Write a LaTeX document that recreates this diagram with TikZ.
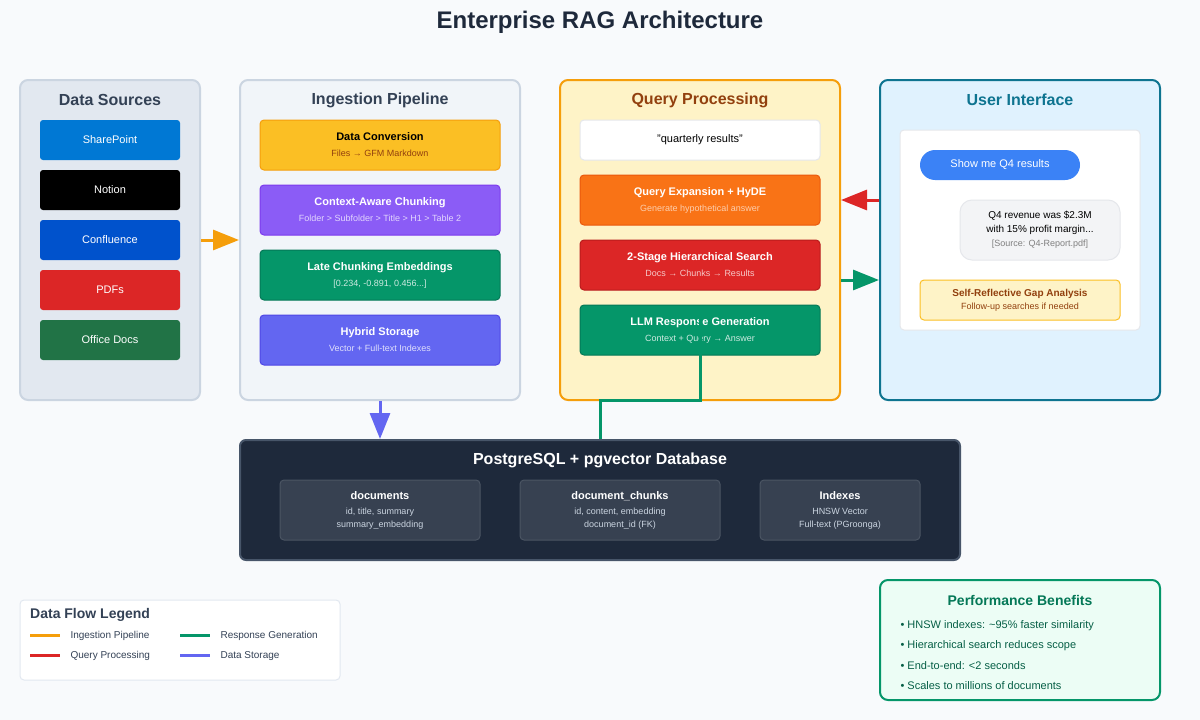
\documentclass[tikz,border=0pt]{standalone}
\usepackage{fontspec}
\setmainfont{Liberation Sans}
\usetikzlibrary{arrows.meta,calc}
\definecolor{bg}{HTML}{F8FAFC}
\definecolor{ink}{HTML}{1E293B}
\definecolor{ink2}{HTML}{334155}
\definecolor{grey1}{HTML}{E2E8F0}
\definecolor{grey2}{HTML}{CBD5E1}
\definecolor{grey3}{HTML}{F1F5F9}
\definecolor{amber}{HTML}{F59E0B}
\definecolor{amberlt}{HTML}{FEF3C7}
\definecolor{amberdk}{HTML}{92400E}
\definecolor{gold}{HTML}{FBBF24}
\definecolor{violet}{HTML}{8B5CF6}
\definecolor{violetdk}{HTML}{7C3AED}
\definecolor{emerald}{HTML}{059669}
\definecolor{emeralddk}{HTML}{047857}
\definecolor{indigo}{HTML}{6366F1}
\definecolor{indigodk}{HTML}{4F46E5}
\definecolor{orng}{HTML}{F97316}
\definecolor{orngdk}{HTML}{EA580C}
\definecolor{rd}{HTML}{DC2626}
\definecolor{rddk}{HTML}{B91C1C}
\definecolor{teal}{HTML}{0E7490}
\definecolor{sky}{HTML}{E0F2FE}
\definecolor{blu}{HTML}{3B82F6}
\definecolor{dbfill}{HTML}{1E293B}
\definecolor{dbline}{HTML}{475569}
\definecolor{tblfill}{HTML}{374151}
\definecolor{tblline}{HTML}{4B5563}
\definecolor{mint}{HTML}{ECFDF5}
\definecolor{pine}{HTML}{065F46}
\definecolor{paleline}{HTML}{E5E7EB}
\definecolor{bubble}{HTML}{F3F4F6}
\tikzset{panel/.style={draw, rounded corners=8pt, line width=2pt, minimum width=280, minimum height=320},
  ptitle/.style={font=\fontsize{16}{19}\selectfont\bfseries, text=ink2},
  src/.style={rounded corners=3pt, minimum width=140, minimum height=40, text=white, font=\fontsize{11}{13}\selectfont},
  stg/.style={draw, rounded corners=4pt, line width=1pt, minimum width=240, minimum height=50, align=center, text=white, font=\fontsize{11}{13}\selectfont\bfseries},
  tbl/.style={draw=tblline, fill=tblfill, rounded corners=4pt, line width=1pt, minimum height=60, align=center, text=white, font=\fontsize{11}{13}\selectfont\bfseries},
  flow/.style={line width=3pt, -{Triangle[length=26pt,width=20pt]}},
  key/.style={line width=3pt},
  txt/.style={font=\fontsize{10}{12}\selectfont, text=ink2, anchor=west}}
\newcommand{\sub}[2]{{\fontsize{9}{11}\selectfont\mdseries\color{#1}#2}}

\begin{document}
\begin{tikzpicture}[x=1pt,y=-1pt]
  \fill[bg] (0,0) rectangle (1200,720);
  \useasboundingbox (0,0) rectangle (1200,720);
  \node[font=\fontsize{24}{28}\selectfont\bfseries, text=ink] (title) at (600,22) {Enterprise RAG Architecture};
  % panels
  \node[panel, fill=grey1, draw=grey2, minimum width=180] (srcs) at (110,240) {};
  \node[panel, fill=grey3, draw=grey2] (ing) at (380,240) {};
  \node[panel, fill=amberlt, draw=amber] (qry) at (700,240) {};
  \node[panel, fill=sky, draw=teal] (ui) at (1020,240) {};
  \node[ptitle] (srct) at (110,100) {Data Sources};
  \node[ptitle] (ingt) at (380,100) {Ingestion Pipeline};
  \node[ptitle, text=amberdk] (qryt) at (700,100) {Query Processing};
  \node[ptitle, text=teal] (uit) at (1020,100) {User Interface};
  % data sources
  \node[src, fill={rgb,255:red,0;green,120;blue,212}] (sp) at (110,140) {SharePoint};
  \node[src, fill=black] (notion) at (110,190) {Notion};
  \node[src, fill={rgb,255:red,0;green,82;blue,204}] (conf) at (110,240) {Confluence};
  \node[src, fill=rd] (pdf) at (110,290) {PDFs};
  \node[src, fill={rgb,255:red,33;green,115;blue,70}] (office) at (110,340) {Office Docs};
  % ingestion stages
  \node[stg, fill=gold, draw=amber, text=black] (conv) at (380,145) {Data Conversion\\[3pt]\sub{amberdk}{Files → GFM Markdown}};
  \node[stg, fill=violet, draw=violetdk] (chunk) at (380,210) {Context-Aware Chunking\\[3pt]\sub{violet!25}{Folder > Subfolder > Title > H1 > Table 2}};
  \node[stg, fill=emerald, draw=emeralddk] (embed) at (380,275) {Late Chunking Embeddings\\[3pt]\sub{emerald!20}{[0.234, -0.891, 0.456...]}};
  \node[stg, fill=indigo, draw=indigodk] (store) at (380,340) {Hybrid Storage\\[3pt]\sub{indigo!20}{Vector + Full-text Indexes}};
  % query stages
  \node[stg, fill=white, draw=paleline, minimum height=40, text=black, font=\fontsize{11}{13}\selectfont] (qtext) at (700,140) {\symbol{34}quarterly results\symbol{34}};
  \node[stg, fill=orng, draw=orngdk] (hyde) at (700,200) {Query Expansion + HyDE\\[3pt]\sub{orng!35}{Generate hypothetical answer}};
  \node[stg, fill=rd, draw=rddk] (search) at (700,265) {2-Stage Hierarchical Search\\[3pt]\sub{rd!25}{Docs → Chunks → Results}};
  \node[stg, fill=emerald, draw=emeralddk] (llm) at (700,330) {LLM Response Generation\\[3pt]\sub{emerald!20}{Context + Query → Answer}};
  % chat window
  \node[draw=paleline, fill=white, rounded corners=4pt, line width=1pt, minimum width=240, minimum height=200] (chat) at (1020,230) {};
  \node[fill=blu, rounded corners=15pt, minimum width=160, minimum height=30, text=white, font=\fontsize{11}{13}\selectfont] (ask) at (1000,165) {Show me Q4 results};
  \node[draw=paleline, fill=bubble, rounded corners=12pt, line width=1pt, minimum width=160, minimum height=60, align=center, font=\fontsize{10}{14}\selectfont] (reply) at (1040,230) {Q4 revenue was \$2.3M\\with 15\% profit margin...\\{\fontsize{9}{11}\selectfont\color{gray}[Source: Q4-Report.pdf]}};
  \node[draw=gold, fill=amberlt, rounded corners=4pt, line width=1pt, minimum width=200, minimum height=40, align=center, text=amberdk, font=\fontsize{10}{12}\selectfont\bfseries] (gap) at (1020,300) {Self-Reflective Gap Analysis\\[1pt]\sub{amberdk}{Follow-up searches if needed}};
  % database
  \node[draw=dbline, fill=dbfill, rounded corners=6pt, line width=2pt, minimum width=720, minimum height=120] (db) at (600,500) {};
  \node[font=\fontsize{16}{19}\selectfont\bfseries, text=white] (dbt) at (600,460) {PostgreSQL + pgvector Database};
  \node[tbl, minimum width=200] (docs) at (380,510) {documents\\[2pt]\sub{grey2}{id, title, summary}\\\sub{grey2}{summary\_embedding}};
  \node[tbl, minimum width=200] (chunks) at (620,510) {document\_chunks\\[2pt]\sub{grey2}{id, content, embedding}\\\sub{grey2}{document\_id (FK)}};
  \node[tbl, minimum width=160] (idx) at (840,510) {Indexes\\[2pt]\sub{grey2}{HNSW Vector}\\\sub{grey2}{Full-text (PGroonga)}};
  % flows
  \draw[flow, amber] (srcs.east) -- (ing.west);
  \draw[flow, rd] (ui.west |- hyde) -- (qry.east |- hyde);
  \draw[flow, emerald] ($(qry.east)+(0,40)$) -- ($(ui.west)+(0,40)$);
  \draw[flow, indigo] (ing.south) -- (ing.south |- db.north);
  \coordinate (elbow) at (600,400);
  \draw[key, emerald] ($(llm.center)+(0,-18)$) |- (elbow) -- (elbow |- db.north);
  % legend
  \node[draw=grey1, fill=white, rounded corners=4pt, line width=1pt, minimum width=320, minimum height=80] (legend) at (180,640) {};
  \node[font=\fontsize{14}{17}\selectfont\bfseries, text=ink2, anchor=west, inner sep=0pt] (legt) at (30,615) {Data Flow Legend};
  \draw[key, amber] (30,635) -- (60,635);
  \draw[key, rd] (30,655) -- (60,655);
  \draw[key, emerald] (180,635) -- (210,635);
  \draw[key, indigo] (180,655) -- (210,655);
  \node[txt] (l1) at (67,636) {Ingestion Pipeline};
  \node[txt] (l2) at (67,656) {Query Processing};
  \node[txt] (l3) at (217,636) {Response Generation};
  \node[txt] (l4) at (217,656) {Data Storage};
  % benefits
  \node[draw=emerald, fill=mint, rounded corners=8pt, line width=2pt, minimum width=280, minimum height=120] (perf) at (1020,640) {};
  \node[font=\fontsize{14}{17}\selectfont\bfseries, text=emeralddk] (perft) at (1020,600) {Performance Benefits};
  \node[txt, font=\fontsize{11}{13}\selectfont, text=pine] (b1) at (897,626) {• HNSW indexes: \textasciitilde95\% faster similarity};
  \node[txt, font=\fontsize{11}{13}\selectfont, text=pine] (b2) at (897,646) {• Hierarchical search reduces scope};
  \node[txt, font=\fontsize{11}{13}\selectfont, text=pine] (b3) at (897,666) {• End-to-end: <2 seconds};
  \node[txt, font=\fontsize{11}{13}\selectfont, text=pine] (b4) at (897,686) {• Scales to millions of documents};
\end{tikzpicture}
\end{document}
